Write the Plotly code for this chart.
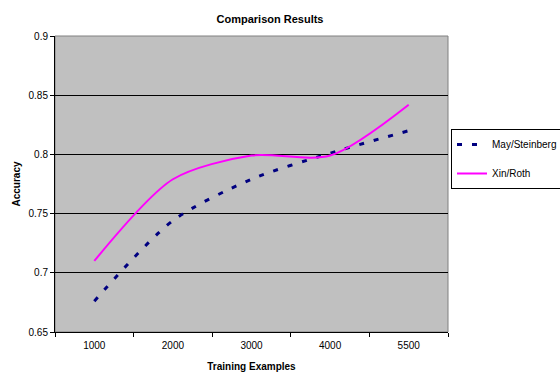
import plotly.graph_objects as go

categories = ["1000", "2000", "3000", "4000", "5500"]
may_steinberg = [0.676, 0.744, 0.779, 0.801, 0.820]
xin_roth = [0.710, 0.779, 0.799, 0.799, 0.842]

font = "Liberation Sans, Arial, sans-serif"

L, R, T, B = 55, 448, 36, 332
W, H = 560, 372

fig = go.Figure()
fig.add_trace(go.Scatter(
    x=categories, y=may_steinberg, name="May/Steinberg", mode="lines",
    line=dict(color="#000080", width=3, dash="5px,10px", shape="spline", smoothing=0.8),
    legendgroup="a",
))
fig.add_trace(go.Scatter(
    x=categories, y=xin_roth, name="Xin/Roth", mode="lines",
    line=dict(color="#FF00FF", width=2, shape="spline", smoothing=0.8),
    legendgroup="b",
))

fig.update_layout(
    width=W, height=H,
    margin=dict(l=L, r=W - R, t=T, b=H - B, autoexpand=False),
    paper_bgcolor="white", plot_bgcolor="#C0C0C0",
    font=dict(family=font, size=10, color="black"),
    title=dict(text="<b>Comparison Results</b>", x=270 / W, xref="container", xanchor="center",
               y=1 - 19 / H, yref="container", yanchor="middle",
               font=dict(size=11, family=font)),
    legend=dict(x=(451 - L) / (R - L), xanchor="left", y=(B - 129) / (B - T), yanchor="top",
                bordercolor="black", borderwidth=1, bgcolor="white",
                font=dict(size=10, family=font), tracegroupgap=10,
                traceorder="grouped", itemwidth=30),
    showlegend=True,
)
fig.update_xaxes(
    type="category", range=[-0.5, 4.5], showgrid=False,
    showline=True, linecolor="black", linewidth=1,
    ticks="outside", tickson="boundaries", ticklen=4, tickcolor="black",
    ticklabelstandoff=4,
    tickfont=dict(size=10, family=font),
    title=dict(text="<b>Training Examples</b>", font=dict(size=10, family=font), standoff=12),
)
fig.update_yaxes(
    range=[0.65, 0.9], dtick=0.05, tick0=0.65,
    showgrid=True, gridcolor="black", gridwidth=1,
    showline=True, linecolor="black", linewidth=1,
    ticks="outside", ticklen=4, tickcolor="black",
    tickfont=dict(size=10, family=font), zeroline=False,
    title=dict(text="<b>Accuracy</b>", font=dict(size=10, family=font), standoff=6),
)
fig.add_shape(type="rect", xref="paper", yref="paper", x0=0, x1=1, y0=0, y1=1,
              line=dict(color="#808080", width=1), layer="below")

fig.write_html("out.html")
